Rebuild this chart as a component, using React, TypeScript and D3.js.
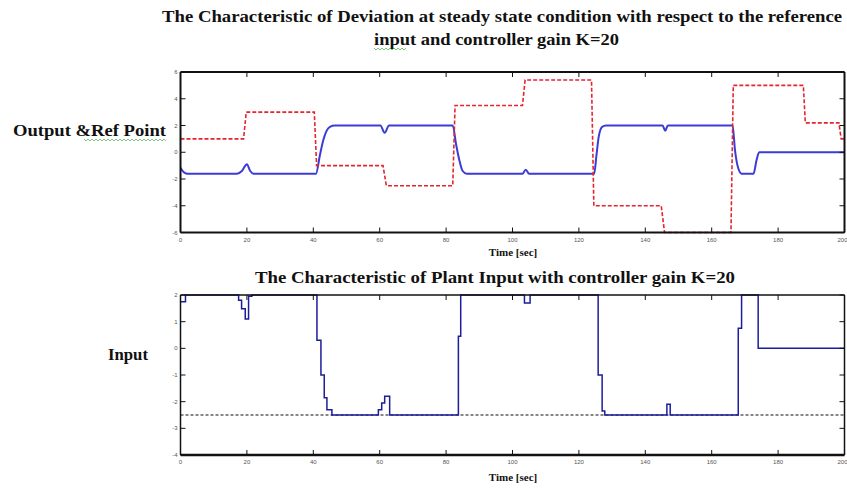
import React from "react";
import * as d3 from "d3";

const W = 847;
const H = 491;

// ---- data ----
const xTicks = [0, 20, 40, 60, 80, 100, 120, 140, 160, 180, 200];
const topYTicks = [-6, -4, -2, 0, 2, 4, 6];
const botYTicks = [-4, -3, -2, -1, 0, 1, 2];

// reference (red dashed)
const refTime = [0, 19, 19.8, 40.3, 41, 61, 62, 82, 82.7, 103, 103.8, 123.8, 124.5, 144.8, 145.8, 165.8, 166.5, 187.6, 188.2, 198.3, 199, 200];
const refValue = [1, 1, 3, 3, -1, -1, -2.5, -2.5, 3.5, 3.5, 5.4, 5.4, -4, -4, -6, -6, 5, 5, 2.2, 2.2, 1, 1];

// plant output (blue)
const outTime = [0, 1, 2, 17, 18.5, 20, 21, 22, 40.8, 42, 43, 44, 45, 46.5, 60.2, 61.5, 62.8, 82, 83, 84, 85, 86.2, 103, 104, 105, 124.6, 125.3, 126, 127, 128.2, 145.2, 146, 146.8, 166.3, 167, 168, 169, 172.6, 173.5, 174.3, 200];
const outValue = [-1.15, -1.5, -1.6, -1.6, -1.4, -0.9, -1.4, -1.6, -1.6, -0.2, 0.9, 1.6, 1.9, 2, 2, 1.45, 2, 2, 0.6, -0.6, -1.4, -1.6, -1.6, -1.3, -1.6, -1.6, -0.2, 1.2, 1.9, 2, 2, 1.6, 2, 2, 0.2, -1.2, -1.6, -1.6, -0.6, 0, 0];

// plant input (blue steps)
const inTime = [0, 1.5, 17.5, 18.4, 19.5, 20.5, 21.5, 41.1, 42.3, 43.3, 44.1, 45.6, 59.6, 60.6, 61.5, 63, 83.7, 84.4, 103.6, 105.3, 125.8, 127, 127.8, 146.5, 147.5, 168, 169, 174, 200];
const inValue = [1.75, 2, 1.8, 1.48, 1.1, 1.95, 2, 0.3, -1, -1.85, -2.3, -2.5, -2.3, -2.05, -1.8, -2.5, 0.45, 2, 1.7, 2, -1, -2.35, -2.5, -2.1, -2.5, 0.75, 2, 0, 0];

const saturation = -2.5;

function wavy(x0: number, x1: number, y: number) {
  const pts: [number, number][] = [];
  let up = true;
  for (let xx = x0; xx <= x1; xx += 2) {
    pts.push([xx, up ? y : y + 2]);
    up = !up;
  }
  return d3.line()(pts) || "";
}

export default function App() {
  const x = d3.scaleLinear().domain([0, 200]).range([180.5, 844.5]);
  const yTop = d3.scaleLinear().domain([-6, 6]).range([232.5, 72]);
  const yBot = d3.scaleLinear().domain([-4, 2]).range([455, 295]);

  const refPts = refTime.map((t, i) => [t, refValue[i]] as [number, number]);
  const outPts = outTime.map((t, i) => [t, outValue[i]] as [number, number]);
  const inPts = inTime.map((t, i) => [t, inValue[i]] as [number, number]);

  const refPath = d3.line<[number, number]>().x((d) => x(d[0])).y((d) => yTop(d[1]))(refPts) || "";
  const outPath = d3
    .line<[number, number]>()
    .curve(d3.curveMonotoneX)
    .x((d) => x(d[0]))
    .y((d) => yTop(d[1]))(outPts) || "";
  const inPath = d3
    .line<[number, number]>()
    .curve(d3.curveStepAfter)
    .x((d) => x(d[0]))
    .y((d) => yBot(d[1]))(inPts) || "";

  const [tx0, tx1] = x.range();
  const tickLen = 5;
  const tickFont = { style: { fontFamily: "'Liberation Sans', Arial, sans-serif", fontSize: "6px" }, fill: "#555" };
  const serif = { fontFamily: "'Liberation Serif', 'Times New Roman', Times, serif", fontWeight: 700 };

  const panel = (
    y: d3.ScaleLinear<number, number>,
    yTicks: number[],
    frameW: number,
    bottomW: number,
    key: string
  ) => {
    const [yb, yt] = y.range();
    return (
      <g key={key}>
        {xTicks.map((t) => (
          <g key={"x" + t}>
            <line x1={x(t)} x2={x(t)} y1={yb} y2={yb - tickLen} stroke="#111" strokeWidth={1} />
            <line x1={x(t)} x2={x(t)} y1={yt} y2={yt + tickLen} stroke="#111" strokeWidth={1} />
            <text x={t === 200 ? x(t) - 2 : x(t)} y={yb + 9} textAnchor="middle" {...tickFont}>
              {t}
            </text>
          </g>
        ))}
        {yTicks.map((v) => (
          <g key={"y" + v}>
            <line x1={tx0} x2={tx0 + tickLen} y1={y(v)} y2={y(v)} stroke="#111" strokeWidth={1} />
            <line x1={tx1} x2={tx1 - tickLen} y1={y(v)} y2={y(v)} stroke="#111" strokeWidth={1} />
            <text x={tx0 - 3} y={y(v) + 2} textAnchor="end" {...tickFont}>
              {v}
            </text>
          </g>
        ))}
        <line x1={tx0} x2={tx1} y1={yt} y2={yt} stroke="#111" strokeWidth={frameW} />
        <line x1={tx0} x2={tx0} y1={yt} y2={yb} stroke="#111" strokeWidth={frameW} />
        <line x1={tx1} x2={tx1} y1={yt} y2={yb} stroke="#111" strokeWidth={frameW} />
        <line x1={tx0} x2={tx1} y1={yb} y2={yb} stroke="#111" strokeWidth={bottomW} />
      </g>
    );
  };

  const T = (props: any) => (
    <text
      x={props.x}
      y={props.y}
      textAnchor={props.anchor || "start"}
      textLength={props.len}
      lengthAdjust={props.len ? "spacingAndGlyphs" : undefined}
      fill="#111"
      style={{ ...serif, fontSize: props.size + "px" }}
    >
      {props.children}
    </text>
  );

  return (
    <div style={{ position: "absolute", left: 0, top: 0 }}>
      <svg width={W} height={H} viewBox={`0 0 ${W} ${H}`} style={{ display: "block", background: "#fff" }}>
        <defs>
          <clipPath id="clipTop">
            <rect x={tx0} y={71} width={tx1 - tx0} height={163} />
          </clipPath>
          <clipPath id="clipBot">
            <rect x={tx0} y={294} width={tx1 - tx0} height={162} />
          </clipPath>
        </defs>
        <rect x={0} y={0} width={W} height={H} fill="#fff" />

        {/* titles */}
        <T x={162} y={22} size={16} len={680}>
          The Characteristic of Deviation at steady state condition with respect to the reference
        </T>
        <T x={374} y={45} size={16} len={245}>
          input and controller gain K=20
        </T>
        <path d={wavy(374, 406, 48)} fill="none" stroke="#5cb85c" strokeWidth={0.8} />

        <T x={13} y={136} size={16} len={153}>
          Output &amp;Ref  Point
        </T>
        <path d={wavy(84, 166, 139)} fill="none" stroke="#5cb85c" strokeWidth={0.8} />

        <T x={513} y={256} size={11} anchor="middle">
          Time [sec]
        </T>
        <T x={255} y={283} size={16} len={480}>
          The Characteristic of Plant Input with controller gain K=20
        </T>
        <T x={108} y={360} size={16} len={40}>
          Input
        </T>
        <T x={513} y={481} size={11} anchor="middle">
          Time [sec]
        </T>

        {/* top panel */}
        <g clipPath="url(#clipTop)">
          <path d={outPath} fill="none" stroke="#3b3bd6" strokeWidth={2} />
          <path d={refPath} fill="none" stroke="#e3262e" strokeWidth={1.6} strokeDasharray="4,2" />
        </g>
        {panel(yTop, topYTicks, 2, 2, "top")}

        {/* bottom panel */}
        <g clipPath="url(#clipBot)">
          <line x1={tx0} x2={tx1} y1={yBot(saturation)} y2={yBot(saturation)} stroke="#111" strokeWidth={1.2} strokeDasharray="3,2" />
          <path d={inPath} fill="none" stroke="#1c1c9c" strokeWidth={1.5} />
        </g>
        {panel(yBot, botYTicks, 1.5, 2.5, "bot")}
      </svg>
    </div>
  );
}
